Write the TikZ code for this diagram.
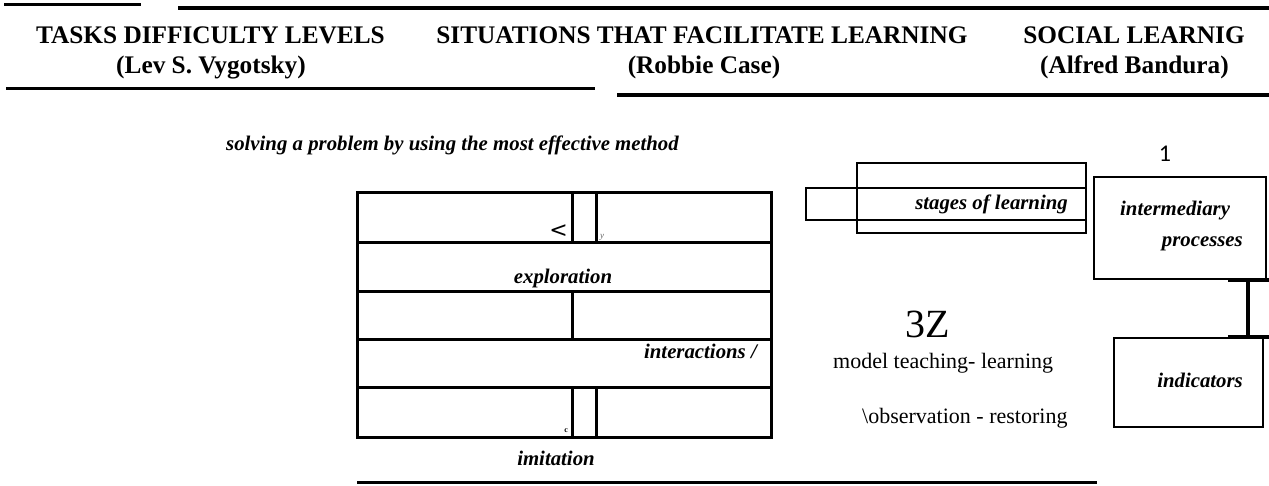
\documentclass[tikz,border=0pt]{standalone}
\usepackage{fontspec}
\setmainfont{Liberation Serif}
\newfontfamily\onefont{Carlito}
\newfontfamily\dvfont{DejaVu Sans}
\begin{document}
\begin{tikzpicture}[x=1pt,y=-1pt,
  hdr/.style={font=\fontsize{25.3}{30}\selectfont\bfseries, inner sep=0pt, anchor=base},
  lbl/.style={font=\fontsize{20.8}{24}\selectfont\bfseries\itshape, inner sep=0pt},
  plain/.style={font=\fontsize{22}{26}\selectfont, inner sep=0pt},
  rule/.style={line width=3.5pt},
  grid/.style={line width=3pt},
  box/.style={draw, line width=2.2pt, rectangle, inner sep=0pt},
  beam/.style={line width=4.5pt}]
\useasboundingbox (0,0) rectangle (1269,485);
% header rules
\coordinate (t1a) at (4,4.5); \coordinate (t1b) at (141,4.5);
\coordinate (t2a) at (178,8); \coordinate (t2b) at (1269,8);
\draw[rule] (t1a) -- (t1b);
\draw[rule] (t2a) -- (t2b);
\coordinate (b1a) at (6,88.5); \coordinate (b1b) at (595,88.5);
\coordinate (b2a) at (617,95); \coordinate (b2b) at (1269,95);
\draw[rule] (b1a) -- (b1b);
\draw[rule] (b2a) -- (b2b);
% header texts
\node[hdr] (h1) at (210.5,43) {TASKS DIFFICULTY LEVELS};
\node[hdr] (h1s) at (211,73) {(Lev S. Vygotsky)};
\node[hdr] (h2) at (702,43) {SITUATIONS THAT FACILITATE LEARNING};
\node[hdr] (h2s) at (704,73) {(Robbie Case)};
\node[hdr] (h3) at (1134,43) {SOCIAL LEARNIG};
\node[hdr] (h3s) at (1134.5,73) {(Alfred Bandura)};
% solving text
\node[lbl, anchor=base west] (solve) at (226,150) {solving a problem by using the most effective method};
% table
\draw[grid] (357.5,192) rectangle (771,437);
\draw[grid] (357.5,242) -- (771,242);
\draw[grid] (357.5,291) -- (771,291);
\draw[grid] (357.5,339) -- (771,339);
\draw[grid] (357.5,387) -- (771,387);
\draw[grid] (572,192) -- (572,242);
\draw[grid] (596,192) -- (596,242);
\draw[grid] (572,291) -- (572,339);
\draw[grid] (572,387) -- (572,437);
\draw[grid] (596,387) -- (596,437);
\node[inner sep=0pt, anchor=base east, font=\dvfont\fontsize{22}{26}\selectfont] (lt) at (568,237) {<};
\node[inner sep=0pt, anchor=base west, font=\fontsize{9}{10}\selectfont\itshape, text=black!60] (ysm) at (600,238.5) {y};
\node[inner sep=0pt, anchor=base east, font=\fontsize{8}{9}\selectfont\bfseries] (csm) at (568,432) {c};
\node[lbl, anchor=base] (expl) at (563,283) {exploration};
\node[lbl, anchor=base east] (inter) at (757,358) {interactions /};
\node[lbl, anchor=base] (imit) at (556,465) {imitation};
\coordinate (bla) at (357,482); \coordinate (blb) at (1097,482);
\draw[grid] (bla) -- (blb);
% stages boxes
\node[box, minimum width=229pt, minimum height=70pt] (stout) at (971.5,198) {};
\node[box, minimum width=280pt, minimum height=32pt] (stin) at (946,204) {};
\node[lbl, anchor=base east] (stages) at (1068,209) {stages of learning};
% centre texts
\node[inner sep=0pt, anchor=base, font=\fontsize{40}{44}\selectfont] (tz) at (928,337) {3Z};
\node[plain, anchor=base west] (model) at (833,368) {model teaching- learning};
\node[plain, anchor=base west] (obs) at (862,423) {\textbackslash observation - restoring};
% right boxes
\node[inner sep=0pt, anchor=base, font=\onefont\fontsize{24}{28}\selectfont] (one) at (1165,161) {1};
\node[box, minimum width=172pt, minimum height=102pt] (proc) at (1180,228) {};
\node[lbl, anchor=base west] (pt1) at (1120,215) {intermediary};
\node[lbl, anchor=base east] (pt2) at (1243,246) {processes};
\node[box, minimum width=149pt, minimum height=89pt] (ind) at (1188.5,382.5) {};
\node[lbl, anchor=base east] (indt) at (1243,387) {indicators};
% I-beam connector
\coordinate (ba) at (proc.south -| 1228,0); \coordinate (bb) at (proc.south -| 1269,0);
\coordinate (ca) at (ind.north -| 1228,0); \coordinate (cb) at (ind.north -| 1269,0);
\draw[beam] (ba) -- (bb);
\draw[beam] (ca) -- (cb);
\draw[beam] (proc.south -| 1248,0) -- (ind.north -| 1248,0);
\end{tikzpicture}
\end{document}
